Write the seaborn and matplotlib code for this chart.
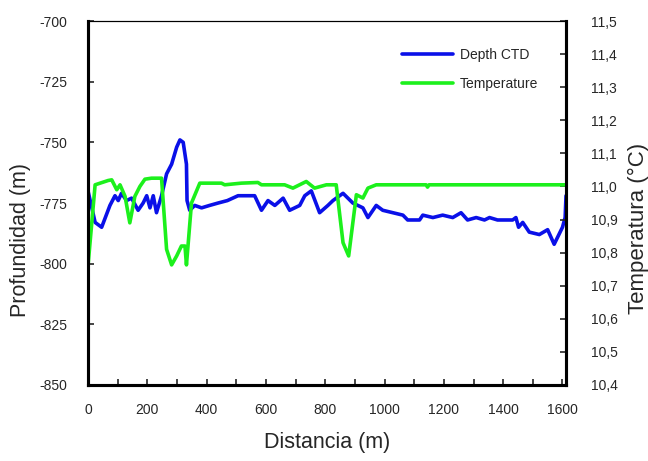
import matplotlib
matplotlib.use("Agg")
import matplotlib.pyplot as plt
import seaborn as sns
from matplotlib.ticker import FuncFormatter, MultipleLocator

# depth CTD profile (m) along distance (m)
depth_x = [0, 24, 46, 74, 91, 102, 113, 130, 147, 169, 186, 198, 209, 220, 231, 248,
           265, 282, 299, 310, 321, 332, 334, 343, 360, 383, 410, 439, 470, 506, 529,
           562, 585, 607, 630, 658, 680, 714, 731, 753, 781, 809, 826, 860, 893, 927,
           944, 972, 994, 1028, 1062, 1078, 1118, 1129, 1163, 1196, 1230, 1258, 1280,
           1309, 1337, 1354, 1381, 1432, 1443, 1452, 1466, 1488, 1522, 1550, 1572,
           1600, 1609, 1612]
depth_y = [-770, -783, -785, -776, -772, -774, -771, -774, -773, -778, -775, -772,
           -777, -772, -779, -772, -763, -759, -752, -749, -750, -759, -774, -778,
           -776, -777, -776, -775, -774, -772, -772, -772, -778, -774, -776, -773,
           -778, -776, -772, -770, -779, -776, -774, -771, -775, -777, -781, -776,
           -778, -779, -780, -782, -782, -780, -781, -780, -781, -779, -782, -781,
           -782, -781, -782, -782, -781, -785, -783, -787, -788, -786, -792, -785,
           -781, -772]

# temperature (C) along distance (m)
temp_x = [0, 24, 68, 80, 97, 108, 125, 141, 158, 175, 192, 214, 248, 265, 282, 299,
          315, 327, 332, 349, 377, 450, 461, 517, 573, 585, 663, 691, 736, 764, 804,
          837, 860, 879, 905, 927, 944, 972, 1140, 1145, 1150, 1612]
temp_y = [10.76, 11.005, 11.018, 11.02, 10.99, 11.005, 10.97, 10.89, 10.97, 11.0,
          11.022, 11.025, 11.025, 10.81, 10.763, 10.79, 10.82, 10.82, 10.763, 10.95,
          11.01, 11.01, 11.005, 11.01, 11.012, 11.005, 11.005, 10.995, 11.015, 10.995,
          11.005, 11.005, 10.83, 10.79, 10.975, 10.965, 10.995, 11.005, 11.005, 10.998,
          11.005, 11.005]

sns.set_style("white")
plt.rcParams['font.family'] = ['Liberation Sans', 'DejaVu Sans']
plt.rcParams['axes.unicode_minus'] = False

fig = plt.figure(figsize=(6.48, 4.61), dpi=100)
ax = fig.add_axes([0.1358, 0.1649, 0.7377, 0.7895])
ax2 = ax.twinx()

sns.lineplot(x=depth_x, y=depth_y, ax=ax, color='#0a10e8', lw=2.6,
             estimator=None, sort=False, label='Depth CTD', legend=False)
sns.lineplot(x=temp_x, y=temp_y, ax=ax2, color='#1cf01c', lw=2.6,
             estimator=None, sort=False, label='Temperature', legend=False)

ax.set_xlim(0, 1612)
ax.set_ylim(-850, -700)
ax2.set_ylim(10.4, 11.5)

ax.xaxis.set_major_locator(MultipleLocator(200))
ax.xaxis.set_minor_locator(MultipleLocator(100))
ax.yaxis.set_major_locator(MultipleLocator(25))
ax2.yaxis.set_major_locator(MultipleLocator(0.1))
ax2.yaxis.set_major_formatter(FuncFormatter(lambda v, p: f"{v:.1f}".replace('.', ',')))

ax.tick_params(axis='x', which='both', direction='in', length=4, width=1.2,
               pad=13, labelsize=10, bottom=True)
ax.tick_params(axis='y', direction='in', length=4, width=1.2, pad=15,
               labelsize=10, left=True)
ax2.tick_params(axis='y', direction='in', length=4, width=1.2, pad=18,
                labelsize=10, right=True)

for a in (ax, ax2):
    for side in ('left', 'bottom', 'right'):
        a.spines[side].set_linewidth(2.2)
        a.spines[side].set_color('black')
    a.spines['top'].set_linewidth(0.8)
    a.spines['top'].set_color('black')

ax.set_xlabel('Distancia (m)', fontsize=15.5, labelpad=11)
ax.set_ylabel('Profundidad (m)', fontsize=15.5)
ax2.set_ylabel('Temperatura (°C)', fontsize=16)
ax.yaxis.set_label_coords(-0.119, 0.398)
ax2.yaxis.set_label_coords(1.130, 0.431)

h1, l1 = ax.get_legend_handles_labels()
h2, l2 = ax2.get_legend_handles_labels()
ax2.legend(h1 + h2, l1 + l2, loc='upper left', bbox_to_anchor=(0.63, 0.96),
           frameon=False, fontsize=10, handlelength=3.7, handletextpad=0.5,
           labelspacing=1.1)

fig.savefig('out.png', dpi=100)
